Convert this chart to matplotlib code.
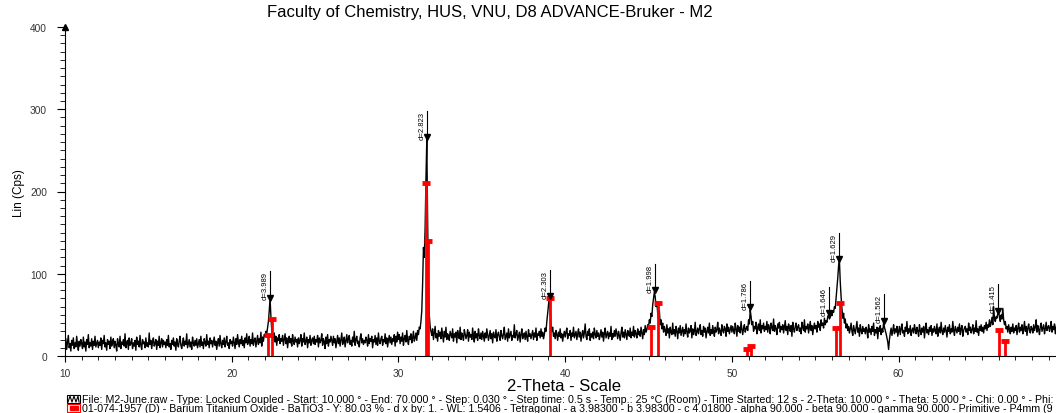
import numpy as np
import matplotlib.pyplot as plt
from matplotlib.ticker import MultipleLocator
from matplotlib.patches import Rectangle

plt.rcParams['font.family'] = ['Liberation Sans', 'DejaVu Sans']

# scan: 10.00 .. 69.95 deg, one row per degree (0.05 deg step)
scan_start = 10.0
scan_step = 0.05
counts = [
    12, 21, 8, 17, 25, 10, 15, 6, 19, 13, 22, 9, 16, 11, 24, 14, 7, 18, 12, 20,
    15, 9, 23, 11, 17, 6, 20, 14, 26, 10, 16, 12, 21, 8, 18, 13, 24, 11, 15, 19,
    10, 17, 13, 22, 8, 19, 15, 25, 11, 16, 7, 20, 14, 18, 9, 23, 12, 17, 21, 10,
    18, 13, 6, 21, 15, 11, 24, 9, 17, 14, 20, 12, 27, 10, 16, 19, 8, 22, 13, 15,
    21, 9, 16, 12, 19, 7, 23, 14, 18, 11, 25, 13, 8, 20, 15, 17, 10, 22, 12, 16,
    11, 28, 14, 19, 9, 17, 22, 12, 15, 20, 8, 18, 13, 24, 10, 16, 21, 11, 19, 14,
    17, 10, 20, 13, 25, 11, 15, 8, 19, 14, 22, 12, 17, 7, 21, 15, 11, 18, 24, 13,
    9, 16, 22, 12, 18, 14, 27, 10, 15, 20, 11, 17, 8, 23, 16, 12, 19, 13, 21, 10,
    15, 20, 11, 24, 13, 17, 9, 21, 16, 12, 26, 14, 18, 10, 22, 15, 19, 11, 17, 23,
    13, 18, 8, 16, 21, 12, 25, 15, 10, 19, 14, 22, 11, 17, 24, 13, 16, 9, 20, 15,
    18, 12, 23, 16, 9, 21, 14, 26, 17, 11, 20, 15, 24, 13, 19, 10, 22, 16, 27, 14,
    17, 24, 12, 20, 15, 28, 13, 19, 22, 11, 18, 25, 14, 21, 16, 29, 12, 23, 18, 26,
    24, 30, 27, 35, 42, 55, 70, 48, 32, 26, 20, 28, 17, 24, 13, 22, 19, 26, 15, 21,
    18, 25, 13, 20, 27, 15, 22, 10, 19, 24, 16, 21, 12, 26, 18, 14, 23, 17, 20, 11,
    22, 15, 19, 26, 12, 21, 17, 28, 14, 18, 23, 10, 20, 16, 25, 13, 19, 22, 15, 24,
    14, 20, 17, 25, 11, 22, 16, 19, 27, 13, 21, 18, 9, 23, 15, 26, 12, 20, 17, 24,
    19, 13, 24, 16, 21, 10, 18, 25, 15, 22, 12, 20, 28, 14, 17, 23, 11, 19, 26, 16,
    21, 25, 14, 19, 12, 23, 17, 30, 13, 20, 24, 15, 18, 11, 22, 27, 16, 21, 14, 19,
    16, 23, 19, 12, 26, 15, 21, 18, 24, 10, 20, 17, 25, 14, 22, 13, 28, 18, 15, 21,
    24, 13, 20, 17, 27, 15, 22, 11, 19, 25, 16, 23, 14, 21, 18, 26, 12, 24, 17, 29,
    20, 26, 15, 23, 18, 28, 13, 21, 25, 17, 31, 19, 14, 24, 20, 27, 16, 22, 30, 18,
    22, 28, 19, 31, 26, 35, 33, 42, 55, 88, 132, 120, 155, 215, 263, 165, 85, 50, 36, 30,
    25, 33, 20, 28, 36, 22, 27, 18, 31, 24, 29, 21, 34, 26, 17, 30, 23, 35, 20, 27,
    24, 19, 30, 26, 22, 33, 18, 27, 23, 29, 16, 31, 25, 21, 35, 20, 28, 24, 19, 32,
    27, 21, 25, 32, 18, 29, 23, 26, 20, 34, 24, 17, 30, 22, 27, 19, 33, 25, 21, 28,
    20, 30, 24, 18, 28, 22, 33, 26, 19, 25, 31, 21, 27, 16, 29, 24, 22, 32, 18, 26,
    29, 23, 19, 31, 25, 21, 27, 35, 20, 24, 28, 18, 33, 22, 26, 30, 19, 25, 23, 38,
    22, 27, 31, 19, 24, 29, 17, 26, 33, 21, 25, 28, 20, 30, 23, 18, 32, 24, 27, 21,
    26, 31, 20, 28, 23, 34, 19, 27, 25, 30, 22, 33, 24, 29, 21, 26, 34, 30, 42, 52,
    63, 72, 58, 40, 30, 35, 24, 28, 21, 31, 26, 19, 29, 24, 33, 22, 27, 18, 25, 30,
    23, 29, 34, 21, 27, 25, 31, 19, 28, 24, 35, 22, 26, 30, 20, 27, 33, 23, 29, 18,
    26, 31, 22, 28, 39, 24, 20, 30, 25, 33, 19, 27, 23, 29, 21, 34, 26, 22, 31, 24,
    28, 20, 25, 32, 23, 29, 18, 27, 34, 22, 26, 30, 21, 28, 24, 36, 20, 27, 23, 31,
    24, 33, 27, 21, 30, 25, 19, 28, 35, 23, 29, 22, 32, 26, 20, 31, 27, 24, 34, 22,
    29, 25, 36, 23, 31, 27, 22, 33, 26, 30, 24, 35, 28, 21, 32, 26, 37, 29, 32, 38,
    36, 44, 40, 52, 48, 62, 70, 78, 72, 60, 66, 52, 45, 55, 38, 44, 33, 40, 29, 36,
    31, 25, 38, 28, 33, 22, 35, 29, 26, 40, 27, 32, 24, 36, 30, 21, 34, 28, 37, 25,
    30, 35, 24, 32, 27, 39, 29, 23, 34, 28, 31, 37, 22, 33, 26, 30, 41, 25, 29, 34,
    27, 33, 38, 26, 31, 24, 36, 29, 34, 22, 30, 35, 28, 40, 25, 32, 27, 37, 30, 24,
    35, 29, 32, 41, 27, 34, 30, 25, 38, 31, 28, 36, 33, 24, 39, 30, 35, 27, 32, 37,
    29, 36, 31, 27, 40, 33, 24, 37, 30, 35, 28, 42, 32, 26, 34, 38, 29, 33, 36, 31,
    44, 39, 56, 48, 38, 42, 30, 36, 33, 41, 27, 35, 39, 31, 44, 28, 37, 33, 40, 30,
    36, 32, 42, 29, 38, 34, 27, 40, 35, 31, 45, 30, 37, 33, 26, 39, 34, 41, 29, 36,
    32, 38, 28, 35, 43, 31, 36, 26, 39, 34, 30, 37, 24, 41, 33, 29, 36, 40, 31, 35,
    38, 30, 34, 27, 41, 35, 31, 44, 29, 36, 33, 39, 28, 35, 42, 31, 37, 26, 34, 40,
    33, 37, 29, 42, 35, 39, 31, 44, 37, 40, 34, 46, 38, 43, 41, 48, 50, 45, 47, 52,
    49, 55, 53, 60, 58, 70, 82, 95, 110, 116, 90, 72, 58, 46, 52, 40, 45, 34, 39, 31,
    36, 28, 33, 40, 30, 25, 37, 32, 27, 35, 42, 29, 34, 24, 38, 31, 27, 36, 30, 33,
    27, 35, 31, 22, 38, 29, 33, 26, 36, 30, 40, 25, 32, 28, 35, 21, 34, 30, 37, 26,
    33, 29, 41, 35, 31, 27, 22, 17, 8, 20, 28, 34, 25, 31, 38, 27, 33, 29, 36, 24,
    30, 36, 26, 33, 39, 28, 31, 24, 35, 30, 42, 27, 33, 29, 37, 25, 31, 34, 28, 38,
    32, 27, 35, 30, 24, 38, 31, 26, 34, 29, 36, 22, 33, 40, 28, 32, 26, 35, 30, 37,
    25, 33, 29, 36, 31, 27, 39, 24, 32, 35, 28, 41, 30, 26, 34, 29, 37, 31, 23, 35,
    30, 38, 27, 33, 29, 42, 31, 25, 36, 32, 28, 35, 30, 39, 26, 33, 37, 24, 31, 34,
    36, 29, 33, 26, 40, 31, 35, 28, 32, 38, 27, 34, 30, 43, 29, 33, 25, 36, 31, 38,
    30, 35, 28, 37, 33, 41, 31, 38, 35, 44, 36, 40, 47, 38, 60, 45, 42, 48, 46, 52,
    53, 47, 42, 50, 45, 58, 44, 38, 42, 33, 36, 29, 38, 32, 27, 35, 30, 39, 28, 34,
    31, 37, 26, 34, 40, 29, 35, 31, 38, 27, 33, 42, 30, 36, 25, 34, 39, 31, 28, 36,
    33, 28, 38, 31, 35, 44, 29, 37, 32, 26, 36, 40, 30, 34, 38, 27, 33, 41, 31, 35,
    37, 30, 34, 42, 29, 36, 32, 39, 27, 35, 40, 31, 38, 33, 28, 43, 34, 30, 37, 33,
]

# peak search results (d-spacing labels)
peak_pos = [22.27, 31.72, 39.08, 45.38, 51.10, 55.81, 56.45, 59.10, 65.98]
peak_h = [69, 264, 71, 78, 57, 50, 116, 41, 53]
peak_d = ['d=3.989', 'd=2.823', 'd=2.303', 'd=1.998', 'd=1.786',
          'd=1.646', 'd=1.629', 'd=1.562', 'd=1.415']

# 01-074-1957 BaTiO3 reference sticks
ref_pos = [22.2, 22.4, 31.68, 31.8, 39.08, 45.17, 45.57, 50.92, 51.15,
           56.23, 56.5, 66.05, 66.4]
ref_h = [25, 45, 210, 140, 71, 35, 64, 9, 12, 34, 64, 32, 18]

title = 'Faculty of Chemistry, HUS, VNU, D8 ADVANCE-Bruker - M2'
info_scan = ('File: M2-June.raw - Type: Locked Coupled - Start: 10.000 \u00b0 - '
             'End: 70.000 \u00b0 - Step: 0.030 \u00b0 - Step time: 0.5 s - '
             'Temp.: 25 \u00b0C (Room) - Time Started: 12 s - 2-Theta: 10.000 \u00b0 - '
             'Theta: 5.000 \u00b0 - Chi: 0.00 \u00b0 - Phi:')
info_ref = ('01-074-1957 (D) - Barium Titanium Oxide - BaTiO3 - Y: 80.03 % - '
            'd x by: 1. - WL: 1.5406 - Tetragonal - a 3.98300 - b 3.98300 - '
            'c 4.01800 - alpha 90.000 - beta 90.000 - gamma 90.000 - '
            'Primitive - P4mm (9')

two_theta = scan_start + scan_step * np.arange(len(counts))

fig = plt.figure(figsize=(10.56, 4.14), dpi=100)
# 16.67 px per degree; the visible window stops just short of 70 deg
ax = fig.add_axes([65 / 1056, 57 / 414, 992 / 1056, 329 / 414])

ax.plot(two_theta, counts, color='black', lw=1.0)

# reference pattern
ax.vlines(ref_pos, 0, ref_h, color='red', lw=2)
ax.plot(ref_pos, ref_h, ls='none', marker='_', ms=6, mew=3.5, color='red')

# d-spacing markers
for x, h, lab in zip(peak_pos, peak_h, peak_d):
    ax.plot([x, x], [h, h + 34], color='black', lw=0.8)
    ax.plot(x, h + 2, marker='v', ms=5, color='black')
    ax.text(x - 0.08, h + 34, lab, rotation=90, ha='right', va='top',
            fontsize=5.5)

ax.set_xlim(10, 69.5)
ax.set_ylim(0, 400)
ax.spines['top'].set_visible(False)
ax.spines['right'].set_visible(False)
ax.xaxis.set_major_locator(MultipleLocator(10))
ax.xaxis.set_minor_locator(MultipleLocator(1))
ax.yaxis.set_major_locator(MultipleLocator(100))
ax.yaxis.set_minor_locator(MultipleLocator(10))
ax.tick_params(axis='x', which='major', length=4.5, pad=4, labelsize=7.3,
               labelcolor='#333333')
ax.tick_params(axis='x', which='minor', length=3)
ax.tick_params(axis='y', which='major', length=6, pad=7, labelsize=7.3,
               labelcolor='#333333')
ax.tick_params(axis='y', which='minor', length=3.5)
ax.plot(10, 400, marker='^', ms=4, color='black', clip_on=False)

ax.set_ylabel('Lin (Cps)', fontsize=8.5)
ax.yaxis.set_label_coords(-0.04, 0.4985)
ax.set_xlabel('2-Theta - Scale', fontsize=12)
ax.xaxis.set_label_coords(0.503, -0.067)
fig.text(490 / 1056, 1 - 13 / 414, title, ha='center', va='center', fontsize=12)

# legend lines at the bottom
lg = fig.add_axes([0, 0, 1, 1], facecolor='none')
lg.set_xlim(0, 1056)
lg.set_ylim(414, 0)
lg.axis('off')
lg.add_patch(Rectangle((67, 396), 13, 8, fill=False, ec='black', lw=0.8))
lg.plot([68, 70, 72, 74, 76, 78, 79], [403, 397, 403, 397, 403, 397, 403],
        color='black', lw=0.8)
lg.add_patch(Rectangle((67, 405), 13, 8, fill=False, ec='red', lw=0.8))
lg.add_patch(Rectangle((69.5, 407), 8, 4, color='red'))
lg.text(82, 400.5, info_scan, fontsize=7.7, va='center', ha='left')
lg.text(82, 409.5, info_ref, fontsize=7.7, va='center', ha='left')

fig.savefig('out.png', dpi=100)
